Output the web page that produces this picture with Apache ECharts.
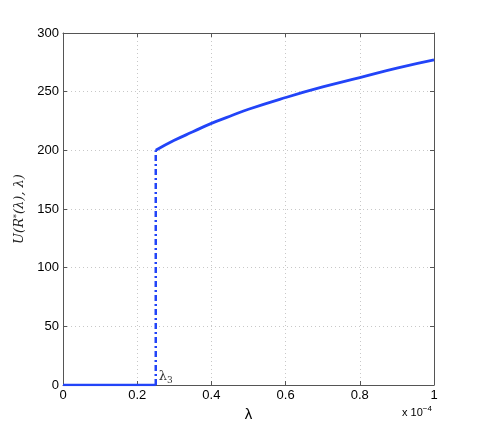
<!DOCTYPE html>
<html><head><meta charset="utf-8">
<script src="https://cdn.jsdelivr.net/npm/echarts@6/dist/echarts.min.js"></script>
<style>html,body{margin:0;padding:0;background:#fff}#c{width:480px;height:433px}</style>
</head><body><div id="c"></div>
<script>
// data (lambda in units of 1e-4)
const lambda3 = 0.25;
const zeroX = [0, 0.25];
const zeroY = [0, 0];
const jumpX = [0.25, 0.25];
const jumpY = [0, 200];
const curveX = [0.25, 0.3, 0.35, 0.4, 0.45, 0.5, 0.6, 0.7, 0.8, 0.9, 1.0];
const curveY = [200, 208.5, 215.8, 223, 229, 235, 245, 254, 262, 270, 277];
const xTicks = [0, 0.2, 0.4, 0.6, 0.8, 1];
const yTicks = [0, 50, 100, 150, 200, 250, 300];

const pairs = (xs, ys) => xs.map((x, i) => [x, ys[i]]);
const blue = '#2244f8';
const font = 'Liberation Sans, Arial, sans-serif';

const chart = echarts.init(document.getElementById('c'));
const axisCommon = {
  type: 'value',
  axisLine: {show: true, onZero: false, lineStyle: {color: '#555', width: 1}},
  axisTick: {show: true, inside: true, length: 4, lineStyle: {color: '#555'}},
  splitLine: {show: false},
  axisLabel: {show: false}
};
chart.setOption({
  animation: false,
  grid: {left: 63, right: 46, top: 33, bottom: 48},
  xAxis: [
    Object.assign({}, axisCommon, {
      min: 0, max: 1, interval: 0.2, position: 'bottom',
      axisLabel: {show: true, color: '#000', fontFamily: font, fontSize: 13, margin: 4,
        formatter: v => String(Math.round(v * 10) / 10)},
      splitLine: {show: true, lineStyle: {color: '#c8c8c8', type: [1, 3], width: 1}},
      name: 'λ', nameLocation: 'middle', nameGap: 19,
      nameTextStyle: {color: '#000', fontFamily: font, fontSize: 15}
    }),
    Object.assign({}, axisCommon, {min: 0, max: 1, interval: 0.2, position: 'top'})
  ],
  yAxis: [
    Object.assign({}, axisCommon, {
      min: 0, max: 300, interval: 50, position: 'left',
      axisLabel: {show: true, color: '#000', fontFamily: font, fontSize: 13, margin: 4},
      splitLine: {show: true, lineStyle: {color: '#c8c8c8', type: [1, 3], width: 1}},
      name: '{i|U}(R{s|*}({i|λ}), {i|λ})', nameLocation: 'middle', nameGap: 34, nameRotate: 90,
      nameTextStyle: {color: '#222', fontFamily: 'DejaVu Serif, serif', fontSize: 13, fontStyle: 'italic',
        rich: {i: {fontStyle: 'italic', fontFamily: 'DejaVu Serif, serif', fontSize: 13},
               s: {fontSize: 8, verticalAlign: 'top', padding: [0, 0, 6, 0], fontStyle: 'italic', fontFamily: 'DejaVu Serif, serif'}}}
    }),
    Object.assign({}, axisCommon, {min: 0, max: 300, interval: 50, position: 'right'})
  ],
  series: [
    {type: 'line', data: pairs(zeroX, zeroY), showSymbol: false, lineStyle: {color: blue, width: 2.5}, z: 3},
    {type: 'line', data: pairs(jumpX, jumpY), showSymbol: false, lineStyle: {color: blue, width: 2.5, type: [6, 3, 2, 3]}, z: 3},
    {type: 'line', data: pairs(curveX, curveY), smooth: true, showSymbol: false, lineStyle: {color: blue, width: 2.8}, z: 3},
    {type: 'scatter', data: [[lambda3, 0]], symbolSize: 0, silent: true,
      label: {show: true, position: 'right', offset: [-2, -8], formatter: 'λ{sub|3}',
        color: '#000', fontFamily: 'DejaVu Serif, serif', fontSize: 13,
        rich: {sub: {fontSize: 9, verticalAlign: 'bottom', padding: [8, 0, 0, 0], fontFamily: 'DejaVu Serif, serif'}}}}
  ],
  graphic: [{
    type: 'text', left: 402, top: 405,
    style: {text: 'x 10{s|−4}', fill: '#000', font: '11px ' + font,
      rich: {s: {fontSize: 8, verticalAlign: 'top', padding: [0, 0, 8, 0], fontFamily: font}}}
  }]
});
</script></body></html>
